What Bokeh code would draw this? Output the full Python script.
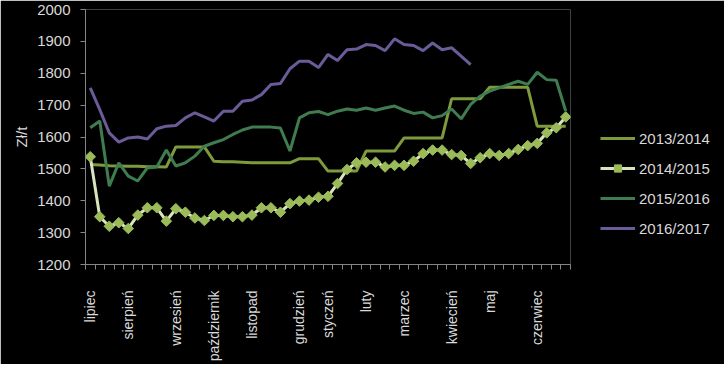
import numpy as np
from bokeh.plotting import figure
from bokeh.models import FixedTicker, Legend, LegendItem
from bokeh.embed import file_html
from bokeh.resources import INLINE

# --- data ---
month_labels = ["lipiec", "sierpień", "wrzesień", "październik", "listopad", "grudzień",
                "styczeń", "luty", "marzec", "kwiecień", "maj", "czerwiec"]
month_weeks = [0, 4, 9, 13, 17, 22, 25, 29, 33, 38, 42, 47]

s1314 = [1514, 1512, 1510, 1509, 1508, 1508, 1507, 1507, 1506, 1569, 1569, 1569, 1569,
         1524, 1522, 1522, 1521, 1519, 1519, 1519, 1519, 1519, 1532, 1532, 1532, 1493,
         1493, 1493, 1493, 1556, 1556, 1556, 1556, 1597, 1597, 1597, 1597, 1597, 1720,
         1720, 1720, 1720, 1756, 1756, 1756, 1756, 1756, 1634, 1634, 1634, 1634]
s1415 = [1538, 1350, 1320, 1331, 1313, 1355, 1378, 1378, 1336, 1375, 1364, 1346, 1338,
         1354, 1354, 1350, 1350, 1355, 1378, 1378, 1364, 1391, 1399, 1402, 1411, 1414,
         1454, 1498, 1519, 1521, 1521, 1506, 1511, 1511, 1524, 1548, 1559, 1559, 1545,
         1542, 1517, 1535, 1548, 1542, 1548, 1561, 1573, 1580, 1613, 1629, 1663]
s1516 = [1629, 1650, 1446, 1519, 1477, 1462, 1503, 1506, 1559, 1509, 1519, 1540, 1571,
         1582, 1592, 1608, 1622, 1631, 1631, 1631, 1628, 1556, 1660, 1676, 1680, 1670,
         1681, 1688, 1684, 1691, 1684, 1691, 1697, 1684, 1674, 1678, 1660, 1667, 1688,
         1657, 1702, 1728, 1744, 1754, 1765, 1775, 1765, 1803, 1780, 1778, 1681]
s1617 = [1754, 1686, 1613, 1584, 1597, 1600, 1594, 1626, 1634, 1636, 1660, 1676, 1663,
         1650, 1681, 1681, 1712, 1716, 1733, 1765, 1768, 1814, 1838, 1838, 1818, 1859,
         1840, 1874, 1876, 1890, 1887, 1871, 1908, 1890, 1887, 1871, 1895, 1874, 1880,
         1854, 1827]
series_names = ["2013/2014", "2014/2015", "2015/2016", "2016/2017"]
y_ticks = [1200, 1300, 1400, 1500, 1600, 1700, 1800, 1900, 2000]

n_weeks = len(s1314)
weeks_all = list(range(n_weeks))

TEXT = "#D9D9D9"
AXIS = "#868686"
FONT = "Liberation Sans"

p = figure(frame_width=485, frame_height=255,
           x_range=(-0.5, n_weeks - 0.5), y_range=(y_ticks[0], y_ticks[-1]),
           output_backend="svg", toolbar_location=None,
           min_border_left=85, min_border_right=146, min_border_top=9, min_border_bottom=92,
           background_fill_color="black", border_fill_color="black")
p.outline_line_color = None
p.grid.visible = False

r1 = p.line(weeks_all, s1314, line_color="#7F9A3C", line_width=3)
r2l = p.line(weeks_all, s1415, line_color="#D7E4BD", line_width=3)
r2m = p.scatter(weeks_all, s1415, marker="square", angle=np.pi / 4, size=7.5,
                fill_color="#9BBB59", line_color="#9BBB59")
r3 = p.line(weeks_all, s1516, line_color="#3F7D50", line_width=3)
r4 = p.line(list(range(len(s1617))), s1617, line_color="#6B5B98", line_width=3)

# x axis
xa = p.xaxis[0]
xa.ticker = FixedTicker(ticks=month_weeks, minor_ticks=[w - 0.5 for w in range(n_weeks + 1)])
xa.major_label_overrides = {w: lab for w, lab in zip(month_weeks, month_labels)}
xa.major_label_orientation = np.pi / 2
xa.major_tick_out = 0
xa.major_tick_in = 0
xa.minor_tick_out = 5
xa.minor_tick_in = 0
xa.axis_line_color = AXIS
xa.minor_tick_line_color = AXIS
xa.major_label_standoff = 21
xa.major_label_text_color = TEXT
xa.major_label_text_font = FONT
xa.major_label_text_font_size = "14px"

# y axis
ya = p.yaxis[0]
ya.ticker = FixedTicker(ticks=y_ticks)
ya.major_tick_out = 5
ya.major_tick_in = 0
ya.minor_tick_out = 0
ya.minor_tick_in = 0
ya.axis_line_color = AXIS
ya.major_tick_line_color = AXIS
ya.major_label_standoff = 10
ya.major_label_text_color = TEXT
ya.major_label_text_font = FONT
ya.major_label_text_font_size = "15px"
ya.axis_label = "Zł/t"
ya.axis_label_text_color = TEXT
ya.axis_label_text_font = FONT
ya.axis_label_text_font_size = "15px"
ya.axis_label_text_font_style = "normal"
ya.axis_label_standoff = 4

legend = Legend(items=[
    LegendItem(label=series_names[0], renderers=[r1]),
    LegendItem(label=series_names[1], renderers=[r2l, r2m]),
    LegendItem(label=series_names[2], renderers=[r3]),
    LegendItem(label=series_names[3], renderers=[r4]),
], location=(30, 27), background_fill_alpha=0, border_line_color=None,
    padding=0, margin=0, spacing=12, glyph_width=35, glyph_height=18,
    label_standoff=4, label_height=18, label_text_color=TEXT,
    label_text_font=FONT, label_text_font_size="15px")
p.add_layout(legend, "right")

open("out.html", "w").write(file_html(p, INLINE))
